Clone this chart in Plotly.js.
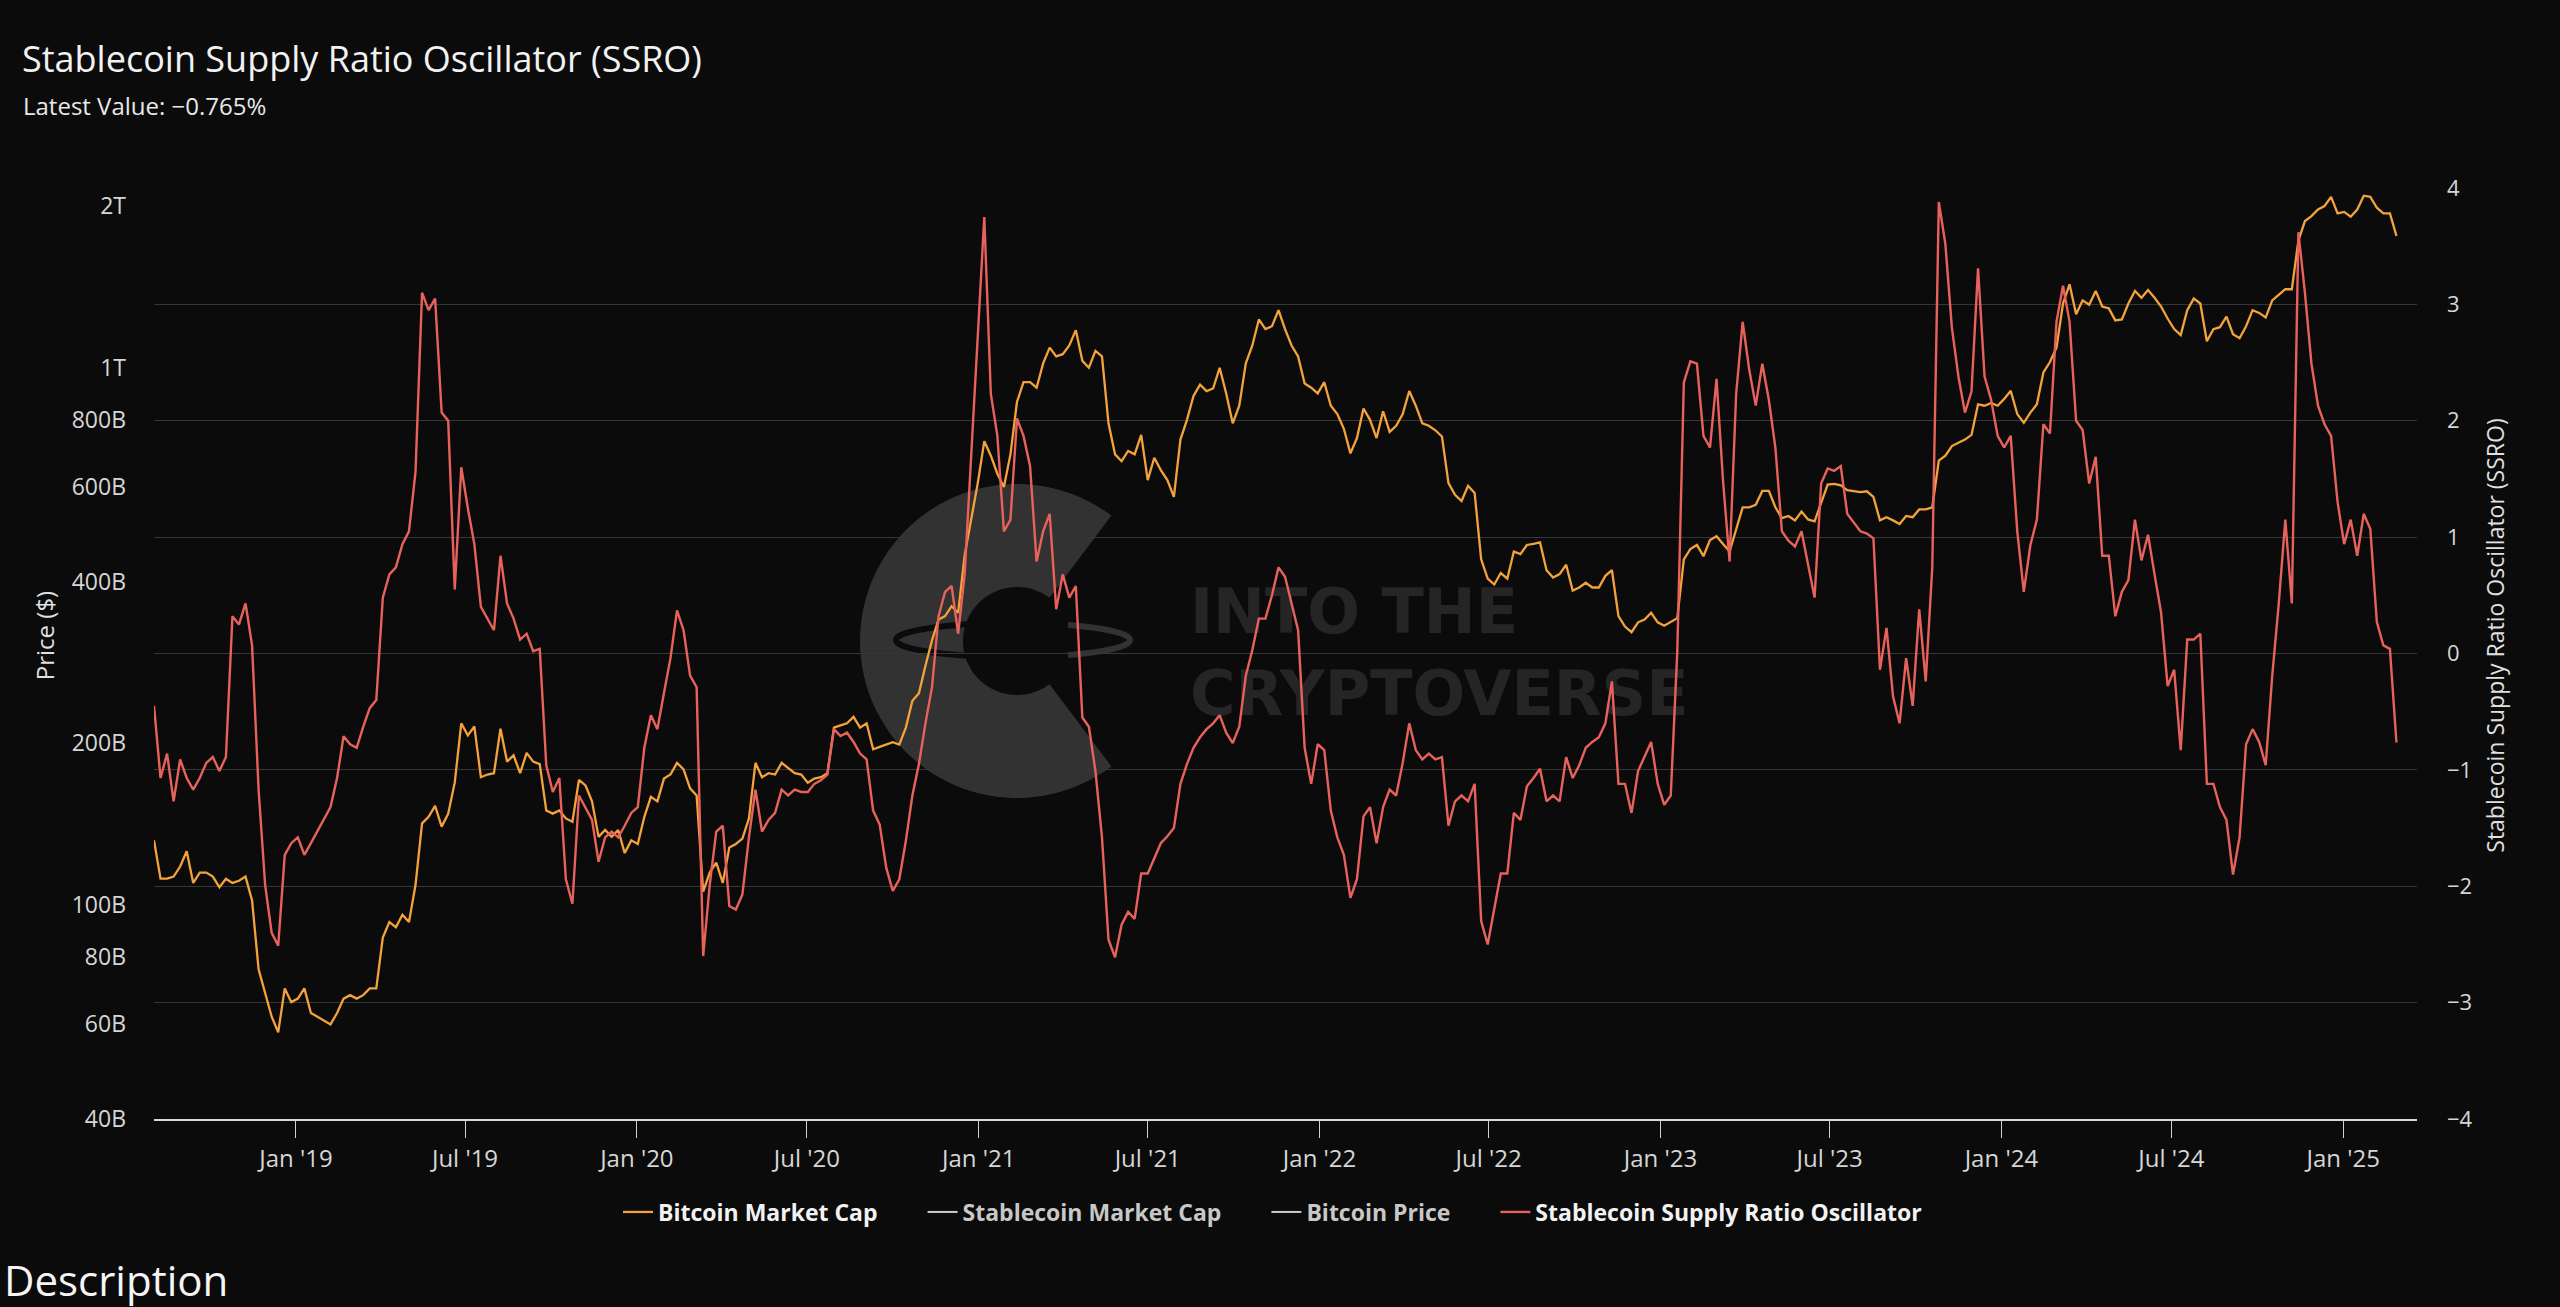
<!DOCTYPE html>
<html>
<head>
<meta charset="utf-8">
<script src="https://cdn.plot.ly/plotly-3.0.1.min.js"></script>
<style>
  html, body { margin: 0; padding: 0; background: #0b0b0b; }
  #chart { width: 2560px; height: 1307px; }
</style>
</head>
<body>
<div id="chart"></div>
<script>
// ---- data (weekly readings, first week 2018-08-02) ----
const seriesStart = '2018-08-02';
const stepDays = 7;

// Bitcoin market cap, billions of USD
const btcMarketCapB = [
  132, 112, 112, 113, 118, 126, 110, 115, 115, 113,
  108, 112, 110, 111, 113, 102, 76, 69, 62, 58,
  70, 66, 67, 70, 63, 62, 61, 60, 63, 67,
  68, 67, 68, 70, 70, 87, 93, 91, 96, 93,
  109, 142, 146, 153, 140, 148, 169, 218, 207, 215,
  173,
  175, 176, 213, 185, 190, 176, 192, 185, 183, 150,
  148, 150, 145, 143, 171, 167, 156, 134, 138, 134,
  138, 125, 132, 130, 146, 159, 156, 172, 175, 184,
  179, 165, 160, 106, 115, 120, 110, 128, 130, 133,
  145, 184, 173, 176, 175, 184, 180, 176, 175,
  169, 172, 173, 176, 214, 216, 218, 224, 214, 218,
  195, 197, 199, 201, 199, 214, 240, 248, 279, 311,
  340, 345, 360, 350, 448, 520, 610, 730, 686, 635,
  600, 690, 864, 940, 940, 918, 1019, 1090, 1050, 1060,
  1100, 1175, 1030, 1000, 1075, 1050, 788, 690, 670, 700,
  690, 750, 618, 680, 645, 618, 575, 735, 800, 886,
  930, 905, 915, 1000, 896, 788, 850, 1019, 1100, 1230,
  1180, 1195, 1280, 1180, 1100, 1050, 935, 918, 896, 940,
  850, 820, 770, 693, 740, 840, 800, 740, 830, 760,
  780, 820, 905, 850, 788, 780, 765, 745, 610, 580,
  565, 603, 585, 440, 405, 395, 415, 405, 455, 450,
  468, 470, 473, 420, 407, 413, 430, 385, 390, 398,
  390, 390, 410, 420, 345, 330, 322, 336, 340, 350,
  336, 331, 336, 342, 440, 460, 468, 446, 478, 486,
  470, 455, 500, 550, 550, 556, 590, 590, 550,
  525, 530, 520, 540, 522, 518, 560, 606, 608, 604,
  592, 590, 587, 589, 575, 520, 527, 520, 512, 530,
  527, 545, 545, 550, 672, 686, 715, 725, 735, 750,
  855, 850, 860, 850, 875, 906, 820, 790, 825, 855,
  980, 1025, 1090, 1317, 1430, 1258, 1335, 1310, 1390, 1300,
  1290, 1225, 1230, 1317, 1390, 1350, 1395, 1350, 1300, 1235,
  1180, 1150, 1280, 1345, 1317, 1120, 1180, 1190, 1245, 1155,
  1135, 1195, 1280, 1265, 1240, 1335, 1370, 1400, 1400, 1725,
  1875, 1915, 1970, 2000, 2080, 1937, 1950, 1910, 1970, 2090,
  2080, 1985, 1937, 1937, 1760
];

// Stablecoin Supply Ratio Oscillator
const ssro = [
  -0.45, -1.07, -0.86, -1.27, -0.91, -1.07, -1.17, -1.07, -0.94, -0.89,
  -1.01, -0.89, 0.32, 0.25, 0.43, 0.07, -1.17, -1.99, -2.40, -2.51,
  -1.73, -1.63, -1.58, -1.73, -1.63, -1.53, -1.43, -1.32, -1.07, -0.71,
  -0.78, -0.81, -0.63, -0.47, -0.40, 0.48, 0.68, 0.74, 0.94, 1.05,
  1.56, 3.10, 2.95, 3.05, 2.07, 2.00, 0.55, 1.60, 1.25, 0.94,
  0.40,
  0.30, 0.20, 0.84, 0.43, 0.30, 0.12, 0.17, 0.02, 0.04, -0.96,
  -1.19, -1.07, -1.94, -2.15, -1.22, -1.32, -1.43, -1.79, -1.58, -1.53,
  -1.58, -1.48, -1.37, -1.32, -0.81, -0.53, -0.65, -0.34, -0.04, 0.37,
  0.20, -0.19, -0.29, -2.60, -1.99, -1.53, -1.48, -2.17, -2.20, -2.07,
  -1.58, -1.17, -1.53, -1.43, -1.37, -1.17, -1.22, -1.17, -1.19,
  -1.19, -1.12, -1.09, -1.04, -0.65, -0.71, -0.68, -0.76, -0.86, -0.91,
  -1.35, -1.47, -1.84, -2.04, -1.94, -1.61, -1.22, -0.95, -0.60, -0.29,
  0.32, 0.53, 0.58, 0.17, 0.68, 1.71, 2.82, 3.75, 2.23, 1.87,
  1.05, 1.15, 2.02, 1.87, 1.61, 0.79, 1.05, 1.20, 0.38, 0.68,
  0.48, 0.58, -0.55, -0.63, -1.01, -1.58, -2.46, -2.61, -2.33, -2.22,
  -2.28, -1.89, -1.89, -1.76, -1.63, -1.57, -1.50, -1.12, -0.95, -0.81,
  -0.72, -0.65, -0.60, -0.53, -0.68, -0.77, -0.63, -0.19, 0.03, 0.30,
  0.30, 0.50, 0.74, 0.66, 0.43, 0.20, -0.81, -1.12, -0.78, -0.83,
  -1.35, -1.58, -1.73, -2.10, -1.94, -1.40, -1.32, -1.63, -1.32, -1.17,
  -1.22, -0.94, -0.60, -0.83, -0.91, -0.86, -0.91, -0.89, -1.48, -1.27,
  -1.22, -1.27, -1.12, -2.30, -2.50, -2.20, -1.89, -1.89, -1.37, -1.43,
  -1.14, -1.07, -0.99, -1.27, -1.22, -1.27, -0.89, -1.07, -0.96, -0.81,
  -0.76, -0.72, -0.60, -0.24, -1.12, -1.12, -1.37, -1.01, -0.89, -0.76,
  -1.12, -1.30, -1.22, 0.02, 2.33, 2.51, 2.49, 1.87, 1.77, 2.36,
  1.48, 0.79, 2.23, 2.85, 2.44, 2.13, 2.49, 2.18, 1.77,
  1.05, 0.97, 0.92, 1.05, 0.76, 0.48, 1.46, 1.59, 1.57, 1.61,
  1.20, 1.12, 1.05, 1.03, 0.99, -0.14, 0.22, -0.37, -0.60, -0.04,
  -0.45, 0.38, -0.24, 0.74, 3.88, 3.52, 2.80, 2.38, 2.07, 2.25,
  3.31, 2.38, 2.18, 1.87, 1.77, 1.87, 1.05, 0.53, 0.93, 1.15,
  1.97, 1.89, 2.85, 3.16, 2.85, 2.00, 1.92, 1.46, 1.69, 0.84,
  0.84, 0.32, 0.53, 0.63, 1.15, 0.80, 1.02, 0.68, 0.35, -0.28,
  -0.14, -0.83, 0.12, 0.12, 0.17, -1.12, -1.12, -1.32, -1.43, -1.90,
  -1.58, -0.78, -0.65, -0.76, -0.96, -0.19, 0.43, 1.15, 0.43, 3.62,
  3.10, 2.49, 2.13, 1.97, 1.87, 1.30, 0.94, 1.15, 0.84, 1.20,
  1.07, 0.27, 0.07, 0.04, -0.765
];

const leftTickVals = [40, 60, 80, 100, 200, 400, 600, 800, 1000, 2000];
const leftTickText = ['40B', '60B', '80B', '100B', '200B', '400B', '600B', '800B', '1T', '2T'];
const seriesNames = ['Bitcoin Market Cap', 'Stablecoin Market Cap', 'Bitcoin Price', 'Stablecoin Supply Ratio Oscillator'];
const latestValueText = 'Latest Value: −0.765%';

// ---- dates ----
const t0 = Date.parse(seriesStart + 'T00:00:00Z');
const dates = ssro.map((_, i) => new Date(t0 + i * stepDays * 86400000).toISOString().slice(0, 10));

// ---- geometry helpers for decoration (pixel -> paper) ----
const ML = 154, MR = 143, MT = 188, MB = 188, W = 2560, H = 1307;
const PW = W - ML - MR, PH = H - MT - MB;
const PX = px => (px - ML) / PW;
const PY = py => (H - MB - py) / PH;

function cPath(cx, cy, R, r, a0, a1) {
  const n = 80; let d = '';
  for (let k = 0; k <= n; k++) {
    const a = (a0 + (a1 - a0) * k / n) * Math.PI / 180;
    d += (k ? 'L' : 'M') + PX(cx + R * Math.cos(a)).toFixed(5) + ',' + PY(cy - R * Math.sin(a)).toFixed(5);
  }
  for (let k = n; k >= 0; k--) {
    const a = (a0 + (a1 - a0) * k / n) * Math.PI / 180;
    d += 'L' + PX(cx + r * Math.cos(a)).toFixed(5) + ',' + PY(cy - r * Math.sin(a)).toFixed(5);
  }
  return d + 'Z';
}
function arcPath(cx, cy, rx, ry, a0, a1) {
  const n = 60; let d = '';
  for (let k = 0; k <= n; k++) {
    const a = (a0 + (a1 - a0) * k / n) * Math.PI / 180;
    d += (k ? 'L' : 'M') + PX(cx + rx * Math.cos(a)).toFixed(5) + ',' + PY(cy - ry * Math.sin(a)).toFixed(5);
  }
  return d;
}

const FONT = '"Open Sans", "Noto Sans", sans-serif';
const WM = 'rgba(255,255,255,0.16)';

const traces = [
  { x: dates, y: btcMarketCapB, name: seriesNames[0], type: 'scatter', mode: 'lines',
    yaxis: 'y', line: { color: '#F4A33C', width: 2.3 } },
  { x: [seriesStart], y: [null], name: seriesNames[1], type: 'scatter', mode: 'lines', yaxis: 'y',
    visible: 'legendonly', line: { color: '#cccccc', width: 2 } },
  { x: [seriesStart], y: [null], name: seriesNames[2], type: 'scatter', mode: 'lines', yaxis: 'y',
    visible: 'legendonly', line: { color: '#cccccc', width: 2 } },
  { x: dates, y: ssro, name: seriesNames[3], type: 'scatter', mode: 'lines',
    yaxis: 'y2', line: { color: '#E8625C', width: 2.4 } }
];

const layout = {
  width: W, height: H,
  paper_bgcolor: '#0b0b0b', plot_bgcolor: '#0b0b0b',
  margin: { l: ML, r: MR, t: MT, b: MB, pad: 0 },
  font: { family: FONT, color: '#d6d6d6', size: 22 },
  title: {
    text: 'Stablecoin Supply Ratio Oscillator (SSRO)',
    x: 22 / W, xref: 'container', xanchor: 'left',
    y: 1 - 59 / H, yref: 'container', yanchor: 'middle',
    font: { family: FONT, size: 36, color: '#f2f2f2' }
  },
  showlegend: true,
  hovermode: false,
  xaxis: {
    type: 'date', range: ['2018-08-02', '2025-03-21'],
    tick0: '2019-01-01', dtick: 'M6', tickformat: "%b '%y",
    showgrid: false, zeroline: false,
    showline: true, linecolor: '#d9d9d9', linewidth: 2,
    ticks: 'outside', ticklen: 17, tickwidth: 1, tickcolor: '#d0d0d0',
    tickfont: { family: FONT, size: 24, color: '#d6d6d6' }
  },
  yaxis: {
    type: 'log', range: [Math.log10(40), 3.3345],
    tickmode: 'array', tickvals: leftTickVals, ticktext: leftTickText,
    showgrid: false, zeroline: false, showline: false, ticks: '',
    ticklabelstandoff: 27,
    tickfont: { family: FONT, size: 23, color: '#d6d6d6' },
    title: { text: 'Price ($)', standoff: 10, font: { family: FONT, size: 24, color: '#e0e0e0' } }
  },
  yaxis2: {
    overlaying: 'y', side: 'right', range: [-4, 4], tick0: 0, dtick: 1,
    showgrid: true, gridcolor: '#363636', gridwidth: 1,
    zeroline: false, showline: false, ticks: '',
    ticklabelstandoff: 29,
    tickfont: { family: FONT, size: 22, color: '#d6d6d6' },
    title: { text: 'Stablecoin Supply Ratio Oscillator (SSRO)', standoff: 16, font: { family: FONT, size: 23, color: '#e0e0e0' } }
  },
  legend: {
    orientation: 'h', x: 0.5 - 13 / PW, xanchor: 'center', y: PY(1212), yanchor: 'middle',
    font: { family: FONT, size: 23, color: '#f2f2f2', weight: 'bold' },
    bgcolor: 'rgba(0,0,0,0)', traceorder: 'normal'
  },
  annotations: [
    { text: latestValueText, xref: 'paper', yref: 'paper', x: PX(21), y: PY(106),
      xanchor: 'left', yanchor: 'middle', showarrow: false,
      font: { family: FONT, size: 24, color: '#e8e8e8' } },
    { text: 'Description', xref: 'paper', yref: 'paper', x: PX(2), y: PY(1249),
      xanchor: 'left', yanchor: 'top', showarrow: false,
      font: { family: FONT, size: 42, color: '#f5f5f5' } }
  ],
  shapes: [
    { type: 'path', xref: 'paper', yref: 'paper', layer: 'below',
      path: cPath(1017, 641, 157, 54, 53, 307),
      fillcolor: WM, line: { width: 0 } },
    { type: 'path', xref: 'paper', yref: 'paper', layer: 'below',
      path: arcPath(1013, 640, 117, 17, 62, 298),
      line: { color: '#0b0b0b', width: 6 } },
    { type: 'path', xref: 'paper', yref: 'paper', layer: 'below',
      path: arcPath(1013, 640, 117, 17, -62, 62),
      line: { color: WM, width: 6 } },
    { type: 'rect', xref: 'paper', yref: 'paper', layer: 'below',
      x0: PX(1187), x1: PX(1720), y0: PY(640), y1: PY(575),
      fillcolor: 'rgba(0,0,0,0)', line: { width: 0 },
      label: { text: 'INTO THE', textposition: 'middle left', padding: 0,
        font: { family: '"DejaVu Sans", sans-serif', size: 62, weight: 'bold', color: 'rgba(255,255,255,0.11)' } } },
    { type: 'rect', xref: 'paper', yref: 'paper', layer: 'below',
      x0: PX(1187), x1: PX(1720), y0: PY(722), y1: PY(657),
      fillcolor: 'rgba(0,0,0,0)', line: { width: 0 },
      label: { text: 'CRYPTOVERSE', textposition: 'middle left', padding: 0,
        font: { family: '"DejaVu Sans", sans-serif', size: 62, weight: 'bold', color: 'rgba(255,255,255,0.11)' } } }
  ]
};

// legend styling: hidden series drawn in light grey at full opacity, wider gaps between entries
const LEGEND_GAP = 40;
function fixLegend() {
  const sb = document.querySelector('#chart .legend .scrollbox');
  if (sb) sb.removeAttribute('clip-path');
  const items = document.querySelectorAll('#chart .legend .traces');
  const n = items.length;
  items.forEach((g, k) => {
    const d = g.__data__;
    const tr = d && d[0] && d[0].trace;
    g.style.opacity = 1;
    if (tr && tr.visible === 'legendonly') {
      const t = g.querySelector('text.legendtext');
      if (t) t.style.fill = '#c8c8c8';
    }
    const m = /translate\(\s*([-\d.e]+)[\s,]+([-\d.e]+)\s*\)/.exec(g.getAttribute('transform') || '');
    if (m) {
      const x = parseFloat(m[1]) + (k - (n - 1) / 2) * LEGEND_GAP;
      g.setAttribute('transform', 'translate(' + x + ',' + m[2] + ')');
    }
  });
}

// axis titles sit a little above the plot's vertical middle in the reference
const TITLE_LIFT = 18;
function liftAxisTitles() {
  document.querySelectorAll('#chart .g-ytitle text, #chart .g-y2title text').forEach(t => {
    const y = parseFloat(t.getAttribute('y'));
    const x = parseFloat(t.getAttribute('x'));
    if (isNaN(y)) return;
    const ny = y - TITLE_LIFT;
    t.setAttribute('y', ny);
    const tf = t.getAttribute('transform') || '';
    const m = /rotate\(\s*([-\d.e]+)[\s,]+([-\d.e]+)[\s,]+([-\d.e]+)\s*\)/.exec(tf);
    if (m) t.setAttribute('transform', tf.replace(m[0], 'rotate(' + m[1] + ',' + m[2] + ',' + (parseFloat(m[3]) - TITLE_LIFT) + ')'));
    t.querySelectorAll('tspan[y]').forEach(s => s.setAttribute('y', parseFloat(s.getAttribute('y')) - TITLE_LIFT));
  });
}

const gd = document.getElementById('chart');
Plotly.newPlot(gd, traces, layout, { displayModeBar: false, responsive: false }).then(() => {
  fixLegend();
  liftAxisTitles();
});
</script>
</body>
</html>
